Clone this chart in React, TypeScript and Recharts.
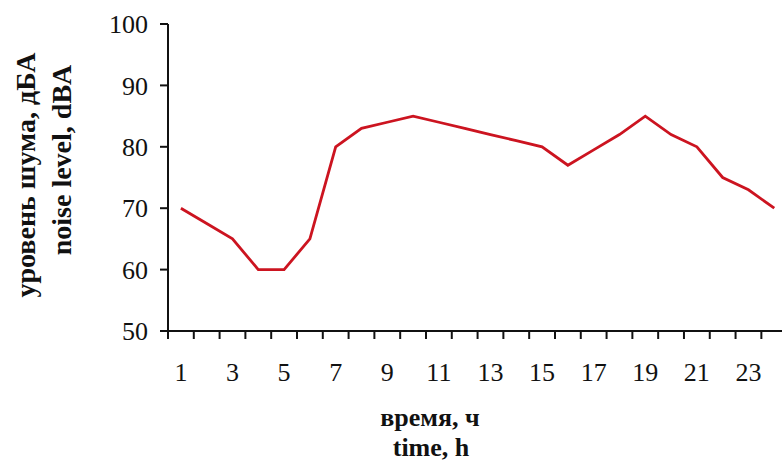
import { LineChart, Line, XAxis, YAxis, Label, ReferenceLine } from 'recharts';

/* ── Data ── */
const hours = [1, 2, 3, 4, 5, 6, 7, 8, 9, 10, 11, 12, 13, 14, 15, 16, 17, 18, 19, 20, 21, 22, 23, 24];
const noise = [70, 67.5, 65, 60, 60, 65, 80, 83, 84, 85, 84, 83, 82, 81, 80, 77, 79.5, 82, 85, 82, 80, 75, 73, 70];
const hourLabels = [1, 3, 5, 7, 9, 11, 13, 15, 17, 19, 21, 23];
const hourBounds = [0.5, 1.5, 2.5, 3.5, 4.5, 5.5, 6.5, 7.5, 8.5, 9.5, 10.5, 11.5, 12.5, 13.5, 14.5, 15.5, 16.5, 17.5, 18.5, 19.5, 20.5, 21.5, 22.5, 23.5];
const levelTicks = [50, 60, 70, 80, 90, 100];

const data = hours.map((h, i) => ({ hour: h, noise: noise[i] }));

const FONT = '"Liberation Serif", "Times New Roman", serif';
const INK = '#111';
const TICK = 8;
const markStyle = { stroke: INK, strokeWidth: 2, fill: 'none' };

/* ── Tick labels ── */
const HourTick = ({ x, y, payload }: any) => (
  <text x={x} y={y} dy="0.71em" textAnchor="middle" fill={INK} fontSize={26} fontFamily={FONT}>
    {payload.value}
  </text>
);

const LevelTick = ({ x, y, payload }: any) => (
  <text x={x} y={y} dy="0.35em" textAnchor="end" fill={INK} fontSize={26} fontFamily={FONT}>
    {payload.value}
  </text>
);

/* ── Axis lines and tick marks drawn as reference-line shapes ── */
const AxisSegment = ({ x1, y1, x2, y2 }: any) => (
  <path d={`M${x1},${y1}L${x2},${y2}`} style={markStyle} />
);
// vertical reference line -> short stub under the plot
const BottomStub = ({ x1, y1, y2 }: any) => {
  const yb = Math.max(Number(y1), Number(y2));
  return <path d={`M${x1},${yb}V${yb + TICK}`} style={markStyle} />;
};
// horizontal reference line -> short stub left of the plot
const LeftStub = ({ x1, x2, y1 }: any) => {
  const xl = Math.min(Number(x1), Number(x2));
  return <path d={`M${xl - TICK},${y1}H${xl}`} style={markStyle} />;
};

/* ── Axis titles ── */
const YTitle = () => (
  <g fontFamily={FONT} fontWeight="bold" fontSize={28} fill={INK}>
    <text x={25} y={175} transform="rotate(-90 25 175)" textAnchor="middle" dominantBaseline="central">
      уровень шума, дБА
    </text>
    <text x={61} y={160} transform="rotate(-90 61 160)" textAnchor="middle" dominantBaseline="central">
      noise level, dBA
    </text>
  </g>
);

const XTitle = () => (
  <g fontFamily={FONT} fontWeight="bold" fontSize={26} fill={INK}>
    <text x={430} y={417} textAnchor="middle" dominantBaseline="central">время, ч</text>
    <text x={431} y={447} textAnchor="middle" dominantBaseline="central">time, h</text>
  </g>
);

export default function App() {
  return (
    <div style={{ position: 'absolute', left: 0, top: 0, background: '#fff' }}>
      <LineChart width={782} height={463} data={data} margin={{ top: 24, right: 0, left: 108, bottom: 92 }}>
        <XAxis
          dataKey="hour"
          type="number"
          domain={[0.5, 24.3]}
          ticks={hourLabels}
          interval={0}
          tick={<HourTick />}
          tickSize={TICK}
          tickMargin={24}
          tickLine={false}
          axisLine={false}
          height={40}
        >
          <Label content={<XTitle />} />
        </XAxis>
        <YAxis
          domain={[50, 100]}
          ticks={levelTicks}
          interval={0}
          tick={<LevelTick />}
          tickSize={TICK}
          tickMargin={12}
          tickLine={false}
          axisLine={false}
          width={60}
        >
          <Label content={<YTitle />} />
        </YAxis>
        {levelTicks.map((v) => (
          <ReferenceLine key={`yt-${v}`} y={v} ifOverflow="visible" shape={<LeftStub />} />
        ))}
        {hourBounds.map((b) => (
          <ReferenceLine key={`xb-${b}`} x={b} ifOverflow="visible" shape={<BottomStub />} />
        ))}
        <ReferenceLine y={50} ifOverflow="visible" shape={<AxisSegment />} />
        <ReferenceLine x={0.5} ifOverflow="visible" shape={<AxisSegment />} />
        <Line
          type="linear"
          dataKey="noise"
          stroke="#cc1420"
          strokeWidth={2.8}
          dot={false}
          isAnimationActive={false}
        />
      </LineChart>
    </div>
  );
}
